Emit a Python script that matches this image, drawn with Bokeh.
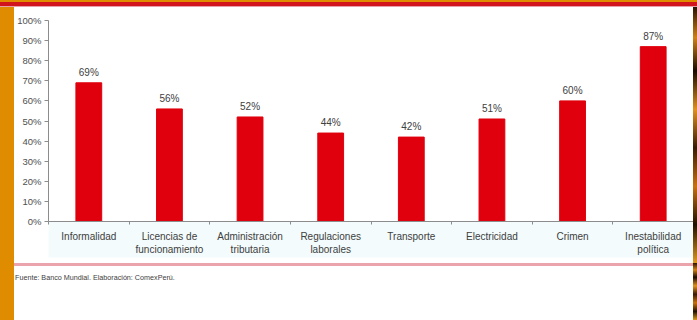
from bokeh.plotting import figure
from bokeh.embed import file_html
from bokeh.resources import INLINE
from bokeh.core.properties import value
from bokeh.layouts import column, row
from bokeh.models import FixedTicker, Range1d, ColumnDataSource, Div

categories = ["Informalidad", "Licencias de\nfuncionamiento", "Administración\ntributaria",
              "Regulaciones\nlaborales", "Transporte", "Electricidad", "Crimen",
              "Inestabilidad\npolítica"]
values = [69, 56, 52, 44, 42, 51, 60, 87]
value_labels = ["69%", "56%", "52%", "44%", "42%", "51%", "60%", "87%"]
y_ticks = [0, 10, 20, 30, 40, 50, 60, 70, 80, 90, 100]
y_tick_labels = ["0%", "10%", "20%", "30%", "40%", "50%", "60%", "70%", "80%", "90%", "100%"]
footnote = "Fuente: Banco Mundial. Elaboración: ComexPerú."

FONT = "Liberation Sans"
ORANGE = "#E08C00"
FIRE = ("linear-gradient(180deg, #2a1200 0%, #d08018 12%, #1a0a00 25%, #e09020 40%, "
        "#3a1a04 55%, #c87010 70%, #201000 85%, #e09a20 100%)")
xs = [i + 0.5 for i in range(len(categories))]
src = ColumnDataSource(dict(x=xs, top=values, lab=value_labels))

p = figure(width=679, height=256, output_backend="svg", toolbar_location=None,
           x_range=Range1d(0, len(categories)), y_range=Range1d(0, 100),
           min_border_left=33, min_border_right=0, min_border_top=13, min_border_bottom=42)
p.outline_line_color = None
p.xgrid.visible = False
p.ygrid.visible = False
p.background_fill_color = "white"
p.border_fill_color = "white"

p.vbar(x="x", top="top", bottom=0, width=0.32, color="#E0000D", source=src)
p.text(x="x", y="top", text="lab", source=src, text_align="center", text_baseline="bottom",
       y_offset=-5, text_font=value(FONT), text_font_size="10px", text_color="#404040")

ax = p.xaxis[0]
ax.ticker = FixedTicker(ticks=xs, minor_ticks=list(range(len(categories) + 1)))
ax.major_label_overrides = {x: c for x, c in zip(xs, categories)}
ax.major_tick_line_color = None
ax.major_tick_out = 0
ax.major_tick_in = 0
ax.minor_tick_line_color = "#8C8C8C"
ax.minor_tick_out = 3
ax.minor_tick_in = 0
ax.axis_line_color = "#8C8C8C"
ax.major_label_standoff = 6
ax.major_label_text_font = FONT
ax.major_label_text_font_size = "10px"
ax.major_label_text_color = "#404040"
ax.background_fill_color = "#F3FBFC"

ay = p.yaxis[0]
ay.ticker = FixedTicker(ticks=y_ticks)
ay.major_label_overrides = {t: l for t, l in zip(y_ticks, y_tick_labels)}
ay.axis_line_color = "#8C8C8C"
ay.major_tick_line_color = "#8C8C8C"
ay.major_tick_out = 4
ay.major_tick_in = 0
ay.minor_tick_line_color = None
ay.major_label_standoff = 3
ay.major_label_text_font = FONT
ay.major_label_text_font_size = "9.5px"
ay.major_label_text_color = "#505050"

top_bar = Div(width=697, height=7, margin=0,
              styles={"background": "linear-gradient(180deg, %s 0px, %s 2px, #D2141C 2px, #D2141C 6px, #E8A0A8 6px, #E8A0A8 7px)" % (ORANGE, ORANGE)})
left_mid = Div(width=14, height=256, margin=0, styles={"background-color": ORANGE})
right_mid = Div(width=4, height=256, margin=0, styles={"background": FIRE})
left_bot = Div(width=14, height=57, margin=0, styles={"background-color": ORANGE})
right_bot = Div(width=4, height=57, margin=0, styles={"background": FIRE})
foot = Div(text=footnote, width=679, height=57, margin=0,
           styles={"background-color": "white", "border-top": "3px solid #EBA3AC",
                   "box-sizing": "border-box", "padding-top": "7px", "padding-left": "1px",
                   "font-family": FONT, "font-size": "7.2px", "color": "#404040",
                   "line-height": "9px"})

layout = column(top_bar,
                row(left_mid, p, right_mid, spacing=0, margin=0),
                row(left_bot, foot, right_bot, spacing=0, margin=0),
                spacing=0, margin=0)

open("out.html", "w").write(file_html(layout, INLINE))
